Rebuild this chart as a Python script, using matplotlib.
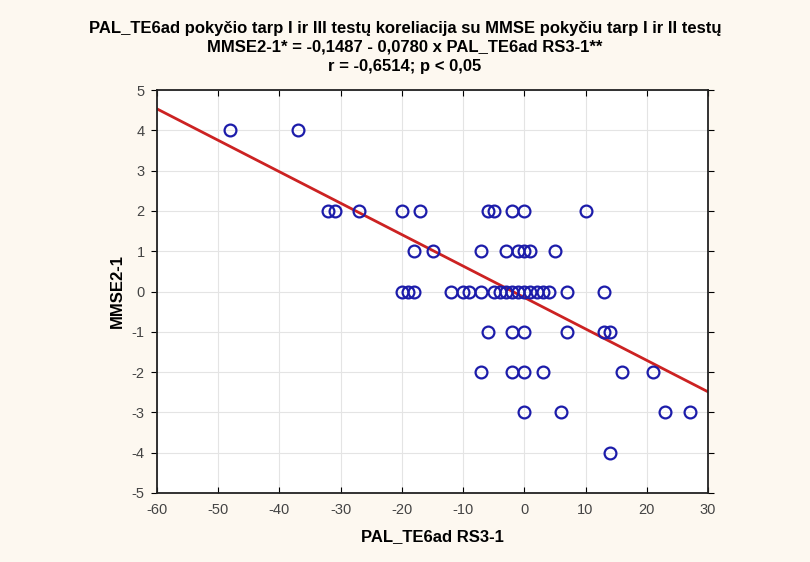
import numpy as np
import matplotlib
matplotlib.use("Agg")
import matplotlib.pyplot as plt

# values
x_vals = [-48, -37,
          -32, -31, -27, -20, -17, -6, -5, -2, 0, 10,
          -18, -15, -7, -3, -1, 0, 1, 5,
          -20, -19, -18, -12, -10, -9, -7, -5, -4, -3, -2, -1, 0, 1, 2, 3, 4, 7, 13,
          -6, -2, 0, 7, 13, 14,
          -7, -2, 0, 3, 16, 21,
          0, 6, 23, 27,
          14]
y_vals = [4, 4,
          2, 2, 2, 2, 2, 2, 2, 2, 2, 2,
          1, 1, 1, 1, 1, 1, 1, 1,
          0, 0, 0, 0, 0, 0, 0, 0, 0, 0, 0, 0, 0, 0, 0, 0, 0, 0, 0,
          -1, -1, -1, -1, -1, -1,
          -2, -2, -2, -2, -2, -2,
          -3, -3, -3, -3,
          -4]
intercept = -0.1487
slope = -0.0780

title_lines = ["PAL_TE6ad pokyčio tarp I ir III testų koreliacija su MMSE pokyčiu tarp I ir II testų",
               "MMSE2-1* = -0,1487 - 0,0780 x PAL_TE6ad RS3-1**",
               "r = -0,6514; p < 0,05"]
x_label = "PAL_TE6ad RS3-1"
y_label = "MMSE2-1"

plt.rcParams["axes.unicode_minus"] = False
bg = "#fdf8f0"
fam = ["Liberation Sans", "DejaVu Sans"]

fig = plt.figure(figsize=(8.1, 5.62), dpi=100, facecolor=bg)
ax = fig.add_axes([157 / 810, 1 - 493 / 562, (708 - 157) / 810, (493 - 90) / 562])
ax.set_facecolor("white")

xs = np.array([-60, 30])
ax.plot(xs, intercept + slope * xs, color="#cc2222", lw=2, zorder=2)
ax.plot(x_vals, y_vals, "o", ms=8.5, mfc="none", mec="#1c1caa", mew=1.6, zorder=3)

ax.set_xlim(-60, 30)
ax.set_ylim(-5, 5)
ax.set_xticks(range(-60, 31, 10))
ax.set_yticks(range(-5, 6))
ax.grid(True, color="#e4e4e4", lw=0.8)
ax.set_axisbelow(True)
for s in ax.spines.values():
    s.set_linewidth(1.3)
    s.set_color("#222222")
ax.tick_params(axis="x", direction="in", length=4, labelsize=10.5, pad=7, top=True)
ax.tick_params(axis="y", direction="out", length=4, labelsize=10.5, pad=5)
ax.tick_params(axis="y", which="both", right=True)
for lab in ax.get_xticklabels() + ax.get_yticklabels():
    lab.set_family(fam)
    lab.set_color("#444444")

ax.set_xlabel(x_label, fontsize=12, fontweight="bold", family=fam, labelpad=9)
ax.set_ylabel(y_label, fontsize=12, fontweight="bold", family=fam, labelpad=5)

for i, t in enumerate(title_lines):
    fig.text(0.5, 1 - (29 + 18.5 * i) / 562, t, ha="center", va="center",
             fontsize=12, fontweight="bold", family=fam)

fig.savefig("out.png", dpi=100, facecolor=bg)
